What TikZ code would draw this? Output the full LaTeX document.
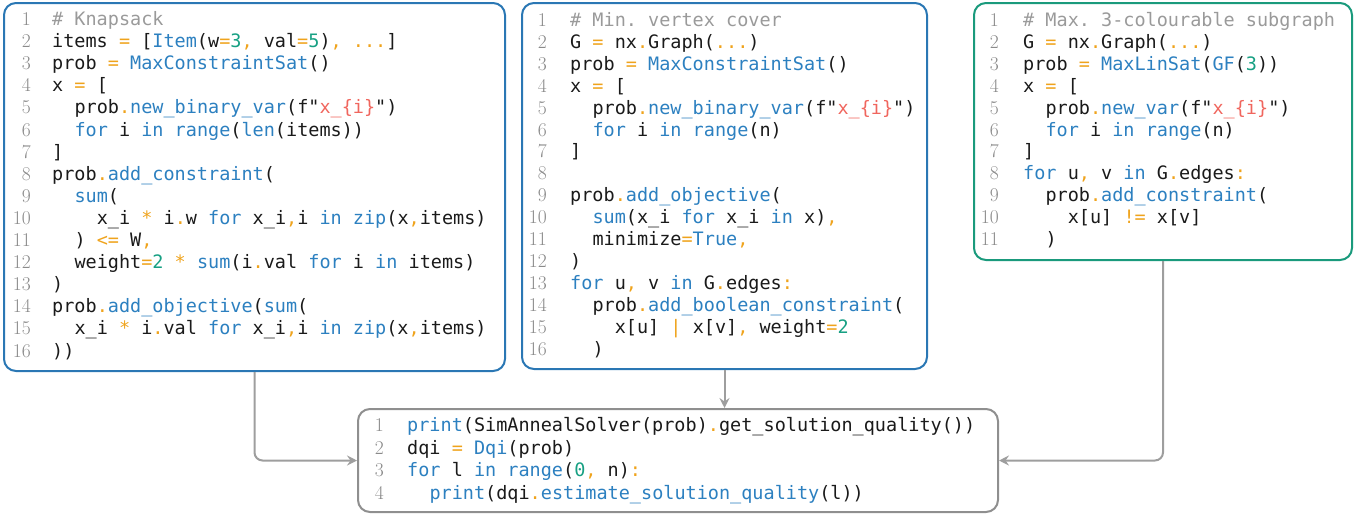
\documentclass[tikz,border=0pt]{standalone}
\usepackage{fontspec}
\setmonofont{DejaVu Sans Mono}
\usetikzlibrary{arrows.meta}
\definecolor{cblue}{HTML}{2C80C0}
\definecolor{corange}{HTML}{EFA31C}
\definecolor{cgreen}{HTML}{17A083}
\definecolor{cred}{HTML}{F0665E}
\definecolor{ccomment}{HTML}{9A9A9A}
\definecolor{cblack}{HTML}{1A1A1A}
\definecolor{numgray}{HTML}{8A8A8A}
\definecolor{bblue}{HTML}{2A77B4}
\definecolor{bgreen}{HTML}{1A9A7C}
\definecolor{bgray}{HTML}{8F8F8F}
\definecolor{agray}{HTML}{9E9E9E}
\newcommand\Kb[1]{\textcolor{cblue}{#1}}
\newcommand\Ko[1]{\textcolor{corange}{#1}}
\newcommand\Kg[1]{\textcolor{cgreen}{#1}}
\newcommand\Kr[1]{\textcolor{cred}{#1}}
\newcommand\Kc[1]{\textcolor{ccomment}{#1}}
\newcommand\Ln[3]{%
  \node[lnum] (\boxtag n#1) at (0,{(#1-1)*\lsk}) {#1};
  \node[code] (\boxtag c#1) at ({\cxo+#2*11.15},{(#1-1)*\lsk}) {#3};}
\newcommand\Lnum[1]{\node[lnum] (\boxtag n#1) at (0,{(#1-1)*\lsk}) {#1};}
\begin{document}
\begin{tikzpicture}[x=1pt,y=-1pt,
  lnum/.style={anchor=base east, inner sep=0pt, text=numgray, font=\fontsize{19.5}{22}\selectfont\rmfamily},
  code/.style={anchor=base west, inner sep=0pt, text=cblack, font=\fontsize{18.5}{22}\selectfont\ttfamily\frenchspacing},
  box/.style={rectangle, rounded corners=12pt, line width=2pt, inner sep=0pt},
  arr/.style={draw=agray, line width=2pt, rounded corners=8pt, -{Stealth[length=10pt,width=10pt,inset=3.5pt]}}]
\path[use as bounding box] (0,0) rectangle (1355,514);
% boxes
\node[box, draw=bblue, minimum width=501pt, minimum height=368pt] (b1) at (254.5,187) {};
\node[box, draw=bblue, minimum width=405pt, minimum height=366pt] (b2) at (724.5,186) {};
\node[box, draw=bgreen, minimum width=378pt, minimum height=257pt] (b3) at (1163,131.5) {};
\node[box, draw=bgray, minimum width=640pt, minimum height=103pt] (bot) at (678,460.5) {};
% connectors
\draw[arr] (b1.south) |- (bot.west);
\draw[arr] (b2.south) -- (b2.south |- bot.north);
\draw[arr] (b3.south) |- (bot.east);
% box 1
\begin{scope}[shift={(31,25.5)}]
\def\boxtag{a}\def\lsk{22.1}\def\cxo{21}
\Ln{1}{0}{\Kc{\# Knapsack}}
\Ln{2}{0}{items \Ko{=} [\Kb{Item}(w\Ko{=}\Kg{3}\Ko{,} val\Ko{=}\Kg{5})\Ko{, ...}]}
\Ln{3}{0}{prob \Ko{=} \Kb{MaxConstraintSat}()}
\Ln{4}{0}{x \Ko{=} [}
\Ln{5}{2}{prob\Ko{.}\Kb{new\_binary\_var}(f"\Kr{x\_\{i\}}")}
\Ln{6}{2}{\Kb{for} i \Kb{in} \Kb{range}(\Kb{len}(items))}
\Ln{7}{0}{]}
\Ln{8}{0}{prob\Ko{.}\Kb{add\_constraint}(}
\Ln{9}{2}{\Kb{sum}(}
\Ln{10}{4}{x\_i \Ko{*} i\Ko{.}w \Kb{for} x\_i\Ko{,}i \Kb{in} \Kb{zip}(x\Ko{,}items)}
\Ln{11}{2}{) \Ko{<=} W\Ko{,}}
\Ln{12}{2}{weight\Ko{=}\Kg{2} \Ko{*} \Kb{sum}(i\Ko{.}val \Kb{for} i \Kb{in} items)}
\Ln{13}{0}{)}
\Ln{14}{0}{prob\Ko{.}\Kb{add\_objective}(\Kb{sum}(}
\Ln{15}{2}{x\_i \Ko{*} i\Ko{.}val \Kb{for} x\_i\Ko{,}i \Kb{in} \Kb{zip}(x\Ko{,}items)}
\Ln{16}{0}{))}
\end{scope}
% box 2
\begin{scope}[shift={(547,26.5)}]
\def\boxtag{b}\def\lsk{21.9}\def\cxo{23}
\Ln{1}{0}{\Kc{\# Min. vertex cover}}
\Ln{2}{0}{G \Ko{=} nx\Ko{.}Graph(\Ko{...})}
\Ln{3}{0}{prob \Ko{=} \Kb{MaxConstraintSat}()}
\Ln{4}{0}{x \Ko{=} [}
\Ln{5}{2}{prob\Ko{.}\Kb{new\_binary\_var}(f"\Kr{x\_\{i\}}")}
\Ln{6}{2}{\Kb{for} i \Kb{in} \Kb{range}(n)}
\Ln{7}{0}{]}
\Lnum{8}
\Ln{9}{0}{prob\Ko{.}\Kb{add\_objective}(}
\Ln{10}{2}{\Kb{sum}(x\_i \Kb{for} x\_i \Kb{in} x)\Ko{,}}
\Ln{11}{2}{minimize\Ko{=}\Kb{True}\Ko{,}}
\Ln{12}{0}{)}
\Ln{13}{0}{\Kb{for} u\Ko{,} v \Kb{in} G\Ko{.}edges\Ko{:}}
\Ln{14}{2}{prob\Ko{.}\Kb{add\_boolean\_constraint}(}
\Ln{15}{4}{x[u] \Ko{|} x[v]\Ko{,} weight\Ko{=}\Kg{2}}
\Ln{16}{2}{)}
\end{scope}
% box 3
\begin{scope}[shift={(999,26.5)}]
\def\boxtag{c}\def\lsk{21.9}\def\cxo{24}
\Ln{1}{0}{\Kc{\# Max. 3-colourable subgraph}}
\Ln{2}{0}{G \Ko{=} nx\Ko{.}Graph(\Ko{...})}
\Ln{3}{0}{prob \Ko{=} \Kb{MaxLinSat}(\Kb{GF}(\Kg{3}))}
\Ln{4}{0}{x \Ko{=} [}
\Ln{5}{2}{prob\Ko{.}\Kb{new\_var}(f"\Kr{x\_\{i\}}")}
\Ln{6}{2}{\Kb{for} i \Kb{in} \Kb{range}(n)}
\Ln{7}{0}{]}
\Ln{8}{0}{\Kb{for} u\Ko{,} v \Kb{in} G\Ko{.}edges\Ko{:}}
\Ln{9}{2}{prob\Ko{.}\Kb{add\_constraint}(}
\Ln{10}{4}{x[u] \Ko{!=} x[v]}
\Ln{11}{2}{)}
\end{scope}
% bottom box
\begin{scope}[shift={(384,431.5)}]
\def\boxtag{d}\def\lsk{22.6}\def\cxo{23}
\Ln{1}{0}{\Kb{print}(SimAnnealSolver(prob)\Ko{.}get\_solution\_quality())}
\Ln{2}{0}{dqi \Ko{=} \Kb{Dqi}(prob)}
\Ln{3}{0}{\Kb{for} l \Kb{in} \Kb{range}(\Kg{0}\Ko{,} n)\Ko{:}}
\Ln{4}{2}{\Kb{print}(dqi\Ko{.}\Kb{estimate\_solution\_quality}(l))}
\end{scope}
\end{tikzpicture}
\end{document}
